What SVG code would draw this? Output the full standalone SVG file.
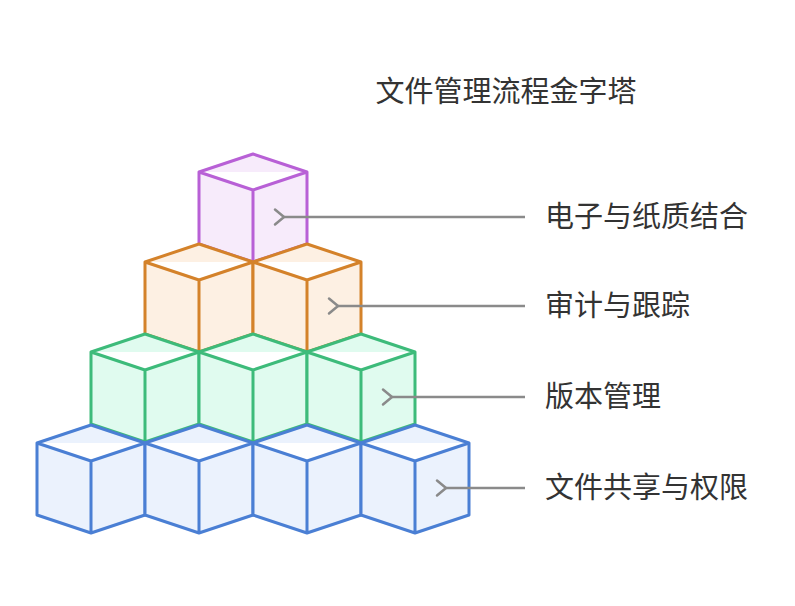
<svg xmlns="http://www.w3.org/2000/svg" width="795" height="606" viewBox="0 0 795 606">
<defs>
<marker id="ah" viewBox="0 0 20 20" refX="3" refY="10" markerWidth="20" markerHeight="20" markerUnits="userSpaceOnUse" orient="auto"><path d="M12,2.5 L3,10 L12,17.5" fill="none" stroke="#8a8a8a" stroke-width="2.5" stroke-linecap="round" stroke-linejoin="round"/></marker>
<symbol id="cube" overflow="visible"><path d="M-54,18 L0,0 L54,18 L54,90 L0,108 L-54,90 Z M-54,18 L0,36 L54,18 M0,36 L0,108" stroke-linejoin="round"/></symbol>
</defs>
<style>
text{font-family:"Noto Sans CJK SC","Noto Sans",sans-serif;fill:#333}
.lbl{font-size:29px}
.p{fill:#f7ebfb;stroke:#b860d6;stroke-width:3}
.o{fill:#fdf0e3;stroke:#d4822a;stroke-width:3}
.g{fill:#e0fbef;stroke:#3dbb7a;stroke-width:3}
.b{fill:#ebf2fd;stroke:#4a7fd4;stroke-width:3}
.c{stroke:#8a8a8a;stroke-width:2.5;fill:none}
</style>
<rect width="795" height="606" fill="#fff"/>
<text x="506" y="102" font-size="29" text-anchor="middle">文件管理流程金字塔</text>
<g id="level4"><use href="#cube" x="253" y="154" class="p"/></g>
<g id="level3"><use href="#cube" x="199" y="244" class="o"/><use href="#cube" x="307" y="244" class="o"/></g>
<g id="level2"><use href="#cube" x="145" y="334" class="g"/><use href="#cube" x="253" y="334" class="g"/><use href="#cube" x="361" y="334" class="g"/></g>
<g id="level1"><use href="#cube" x="91" y="425" class="b"/><use href="#cube" x="199" y="425" class="b"/><use href="#cube" x="307" y="425" class="b"/><use href="#cube" x="415" y="425" class="b"/></g>
<g id="connectors">
<line class="c" x1="525" y1="217" x2="284" y2="217" marker-end="url(#ah)"/>
<line class="c" x1="525" y1="306" x2="338" y2="306" marker-end="url(#ah)"/>
<line class="c" x1="525" y1="397" x2="392" y2="397" marker-end="url(#ah)"/>
<line class="c" x1="525" y1="488" x2="446" y2="488" marker-end="url(#ah)"/>
</g>
<g id="labels">
<text class="lbl" x="545" y="227">电子与纸质结合</text>
<text class="lbl" x="545" y="316">审计与跟踪</text>
<text class="lbl" x="545" y="407">版本管理</text>
<text class="lbl" x="545" y="498">文件共享与权限</text>
</g>
</svg>
